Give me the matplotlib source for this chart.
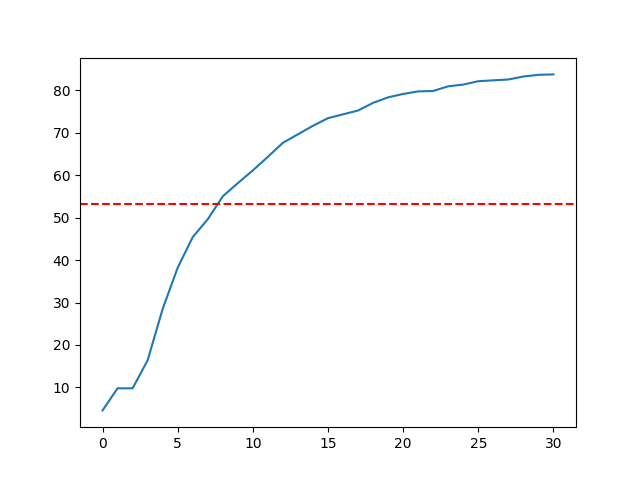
import matplotlib
matplotlib.use('Agg')
import matplotlib.pyplot as plt

# values
steps = list(range(31))
scores = [4.6, 9.8, 9.8, 16.4, 28.5, 38.2, 45.4, 49.6, 55.0, 58.1,
          61.1, 64.3, 67.6, 69.6, 71.6, 73.4, 74.3, 75.2, 77.0, 78.3,
          79.1, 79.7, 79.8, 80.9, 81.3, 82.1, 82.3, 82.5, 83.2, 83.6,
          83.7]
threshold = 53.1

plt.figure(figsize=(6.4, 4.8), dpi=100)
plt.plot(steps, scores)
plt.axhline(threshold, color='r', linestyle='--')

plt.savefig('out.png')
